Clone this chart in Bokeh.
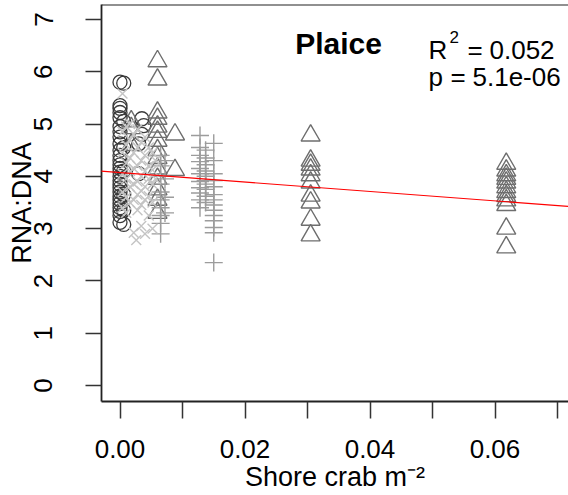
from bokeh.plotting import figure
from bokeh.models import Range1d, FixedTicker, Slope, Label, Span
from bokeh.embed import file_html
from bokeh.resources import INLINE

FONT = "Liberation Sans"

# ---------------- data ----------------
circ_x = [0.0, 0.0, 0.0, 0.0, 0.0, 0.0, 0.0, 0.0, 0.0, 0.0, 0.0, 0.0, 0.0, 0.0,
          0.0, 0.0, 0.0, 0.0, 0.0, 0.0, 0.0, 0.0, 0.0, 0.0, 0.0, 0.0, 0.0,
          0.0006, 0.0006, 0.0006, 0.0006, 0.0006, 0.0006, 0.0006,
          0.0030, 0.0030, 0.0035, 0.0035, 0.0038]
circ_y = [5.80, 5.35, 5.30, 5.22, 5.12, 4.95, 4.85, 4.75, 4.62, 4.50, 4.40, 4.30, 4.22, 4.15,
          4.08, 4.00, 3.92, 3.85, 3.78, 3.70, 3.62, 3.55, 3.48, 3.40, 3.33, 3.25, 3.12,
          5.78, 5.05, 4.55, 4.10, 3.65, 3.35, 3.08,
          4.62, 4.05, 5.10, 4.80, 4.97]

xmark_x = [0.0004, 0.0004, 0.0004, 0.0004, 0.0004, 0.0004,
           0.0010, 0.0010, 0.0010, 0.0010, 0.0010, 0.0010,
           0.0016, 0.0016, 0.0016, 0.0016, 0.0016, 0.0016,
           0.0022, 0.0022, 0.0022, 0.0022, 0.0022, 0.0022,
           0.0026,
           0.0028, 0.0028, 0.0028, 0.0028, 0.0028, 0.0028,
           0.0034, 0.0034, 0.0034, 0.0034, 0.0034, 0.0034,
           0.0040, 0.0040, 0.0040, 0.0040, 0.0040, 0.0040,
           0.0046, 0.0046, 0.0046, 0.0046, 0.0046,
           0.0052, 0.0052, 0.0052, 0.0052, 0.0052,
           0.0057, 0.0057]
xmark_y = [5.58, 4.85, 4.45, 4.05, 3.70, 3.40,
           4.95, 4.60, 4.25, 3.95, 3.60, 3.30,
           5.00, 4.70, 4.35, 4.10, 3.80, 3.50,
           4.80, 4.45, 4.15, 3.85, 3.55, 2.92,
           2.78,
           4.90, 4.55, 4.20, 3.90, 3.65, 3.35,
           4.65, 4.30, 4.00, 3.72, 3.45, 3.05,
           4.75, 4.40, 4.10, 3.80, 3.55, 2.90,
           4.55, 4.20, 3.95, 3.62, 3.25,
           4.45, 4.12, 3.85, 3.50, 3.00,
           4.30, 3.95]

tri_x = [0.0018, 0.0018, 0.0018,
         0.0060, 0.0060, 0.0060, 0.0060, 0.0060, 0.0060, 0.0060, 0.0060, 0.0060, 0.0060,
         0.0060, 0.0060, 0.0060, 0.0060,
         0.0088, 0.0088,
         0.0305, 0.0305, 0.0305, 0.0305, 0.0305, 0.0305, 0.0305, 0.0305, 0.0305, 0.0305,
         0.0618, 0.0618, 0.0618, 0.0618, 0.0618, 0.0618, 0.0618, 0.0618, 0.0618, 0.0618,
         0.0618, 0.0618]
tri_y = [5.05, 4.92, 4.60,
         6.20, 5.85, 5.22, 5.10, 4.95, 4.85, 4.68, 4.50, 4.35, 4.15,
         3.95, 3.75, 3.55, 3.30,
         4.80, 4.12,
         4.78, 4.30, 4.22, 4.13, 4.02, 3.88, 3.63, 3.50, 3.17, 2.87,
         4.24, 4.11, 4.02, 3.95, 3.88, 3.79, 3.70, 3.62, 3.54, 3.45,
         3.00, 2.64]

plus_x = [0.0065, 0.0065, 0.0065, 0.0065, 0.0065, 0.0065, 0.0065, 0.0065, 0.0065, 0.0065,
          0.0072, 0.0072, 0.0072, 0.0072,
          0.0128, 0.0128, 0.0128, 0.0128, 0.0128, 0.0128, 0.0128, 0.0128, 0.0128, 0.0128,
          0.0128,
          0.0137, 0.0137, 0.0137, 0.0137, 0.0137, 0.0137, 0.0137, 0.0137, 0.0137, 0.0137,
          0.0150, 0.0150, 0.0150, 0.0150, 0.0150, 0.0150, 0.0150, 0.0150, 0.0150, 0.0150,
          0.0150, 0.0150, 0.0150, 0.0150]
plus_y = [4.40, 4.20, 4.00, 3.85, 3.70, 3.55, 3.40, 3.25, 3.10, 2.90,
          4.30, 3.95, 3.60, 3.30,
          4.78, 4.55, 4.40, 4.28, 4.15, 4.05, 3.90, 3.78, 3.68, 3.55,
          3.40,
          4.50, 4.35, 4.22, 4.10, 4.00, 3.92, 3.85, 3.75, 3.62, 3.50,
          4.63, 4.30, 4.05, 3.92, 3.80, 3.65, 3.55, 3.45, 3.35, 3.25,
          3.15, 3.02, 2.92, 2.35]

fit_intercept = 4.07
fit_slope = -9.0

x_ticks = [0.0, 0.01, 0.02, 0.03, 0.04, 0.05, 0.06, 0.07]
x_tick_labels = ["0.00", "", "0.02", "", "0.04", "", "0.06", ""]
y_ticks = [0, 1, 2, 3, 4, 5, 6, 7]

title_text = "Plaice"
r2_text = "0.052"
p_text = "5.1e-06"
x_title = "Shore crab m\u207b\u00b2"
y_title = "RNA:DNA"

# ---------------- figure ----------------
p = figure(width=568, height=495,
           x_range=Range1d(-0.00296, 0.07176), y_range=Range1d(-0.306, 7.285),
           output_backend="svg", toolbar_location=None,
           min_border_left=101, min_border_right=0, min_border_top=4, min_border_bottom=94)
p.outline_line_color = None
p.grid.visible = False
p.background_fill_color = "white"
p.border_fill_color = "white"

AX = "#222222"
xa = p.xaxis[0]
xa.ticker = FixedTicker(ticks=x_ticks)
xa.major_label_overrides = {t: s for t, s in zip(x_ticks, x_tick_labels)}
xa.major_tick_out = 17
xa.major_tick_in = 0
xa.minor_tick_line_color = None
xa.major_tick_line_width = 1.5
xa.major_tick_line_color = "#333333"
xa.axis_line_width = 1.8
xa.axis_line_color = AX
xa.major_label_standoff = 21
xa.major_label_text_font = FONT
xa.major_label_text_font_size = "26px"
xa.major_label_text_color = "black"
xa.axis_label = x_title
xa.axis_label_text_font = FONT
xa.axis_label_text_font_size = "27px"
xa.axis_label_text_font_style = "normal"
xa.axis_label_text_color = "black"
xa.axis_label_standoff = 1

ya = p.yaxis[0]
ya.ticker = FixedTicker(ticks=y_ticks)
ya.major_tick_out = 16
ya.major_tick_in = 0
ya.minor_tick_line_color = None
ya.major_tick_line_width = 1.5
ya.major_tick_line_color = "#333333"
ya.axis_line_width = 1.8
ya.axis_line_color = AX
ya.major_label_orientation = "vertical"
ya.major_label_standoff = 33
ya.major_label_text_font = FONT
ya.major_label_text_font_size = "26px"
ya.major_label_text_color = "black"
ya.axis_label = y_title
ya.axis_label_text_font = FONT
ya.axis_label_text_font_size = "27px"
ya.axis_label_text_font_style = "normal"
ya.axis_label_text_color = "black"
ya.axis_label_standoff = -5

p.add_layout(Span(location=7.285, dimension="width", line_color=AX, line_width=1.8))

# ---------------- points ----------------
p.scatter(circ_x, circ_y, marker="circle", size=14, fill_color=None,
          line_color="#3a3a3a", line_width=1.3)
p.scatter(tri_x, tri_y, marker="triangle", size=19, fill_color=None,
          line_color="#6e6e6e", line_width=1.4)
p.scatter(plus_x, plus_y, marker="cross", size=18, fill_color=None,
          line_color="#9c9c9c", line_width=1.4)
p.scatter(xmark_x, xmark_y, marker="x", size=14, fill_color=None,
          line_color="#c4c4c4", line_width=1.4)

p.add_layout(Slope(gradient=fit_slope, y_intercept=fit_intercept,
                   line_color="red", line_width=1.2))

# ---------------- texts ----------------
def lab(x, y, text, size, xo=0, yo=0, style="normal", align="left"):
    p.add_layout(Label(x=x, y=y, text=text, x_offset=xo, y_offset=yo,
                       text_font=FONT, text_font_size=size, text_font_style=style,
                       text_align=align, text_baseline="alphabetic", text_color="black"))

lab(0.03496, 6.533, title_text, "30px", style="bold", align="center")
lab(0.04936, 6.419, "R", "26px")
lab(0.04936, 6.419, "2", "17px", xo=21, yo=12.6)
lab(0.04936, 6.419, "=", "26px", xo=39)
lab(0.04936, 6.419, r2_text, "26px", xo=61)
lab(0.04936, 5.908, "p", "26px", xo=0)
lab(0.04936, 5.908, "=", "26px", xo=22)
lab(0.04936, 5.908, p_text, "26px", xo=44)

open("out.html", "w").write(file_html(p, INLINE))
